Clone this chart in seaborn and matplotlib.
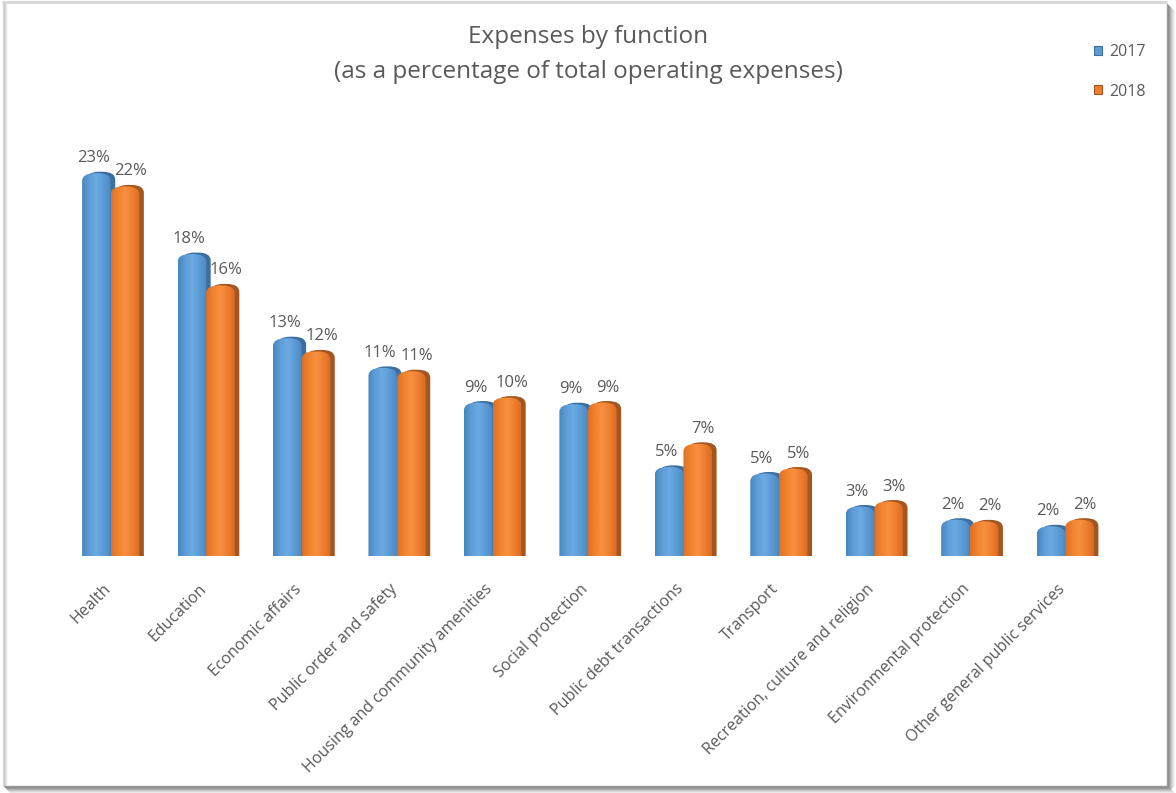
import numpy as np
import pandas as pd
import matplotlib
matplotlib.use("Agg")
import matplotlib.pyplot as plt
import seaborn as sns
from matplotlib.patches import FancyBboxPatch, Patch
from matplotlib.colors import to_rgb
from matplotlib.lines import Line2D
from matplotlib.transforms import ScaledTranslation

# ---- data -------------------------------------------------------------
functions = [
    "Health", "Education", "Economic affairs", "Public order and safety",
    "Housing and community amenities", "Social protection",
    "Public debt transactions", "Transport",
    "Recreation, culture and religion", "Environmental protection",
    "Other general public services",
]
years = ["2017", "2018"]
share_2017 = [23.2, 18.3, 13.2, 11.4, 9.3, 9.2, 5.4, 5.0, 3.0, 2.2, 1.8]
share_2018 = [22.4, 16.4, 12.4, 11.2, 9.6, 9.3, 6.8, 5.3, 3.3, 2.1, 2.2]

df = pd.DataFrame({
    "function": functions * 2,
    "year": [years[0]] * len(functions) + [years[1]] * len(functions),
    "share": share_2017 + share_2018,
})

# ---- style ------------------------------------------------------------
sns.set_style("white")
plt.rcParams["font.family"] = ["Open Sans", "DejaVu Sans"]
TEXT = "#595959"
BLUE, ORANGE = "#5B9BD5", "#ED7D31"
SIDE = {"2017": "#3C6F9F", "2018": "#A3561F"}
GRAD = {
    "2017": ["#4A86C0", "#5E9DD8", "#6CAAE2", "#5B9BD5", "#4C89C2"],
    "2018": ["#DD7026", "#F1832F", "#F8903F", "#EE7E30", "#D86C23"],
}

fig = plt.figure(figsize=(11.76, 7.93), dpi=100)
W, H = 1176, 793
ax = fig.add_axes([63 / W, (H - 556) / H, 1050 / W, 412.5 / H])

sns.barplot(data=df, x="function", y="share", hue="year", order=functions,
            hue_order=years, palette={"2017": BLUE, "2018": ORANGE},
            width=0.6, dodge=True, legend=False, ax=ax, saturation=1)

ax.set_xlim(-0.5, len(functions) - 0.5)
ax.set_ylim(0, 25)
sns.despine(ax=ax, left=True, bottom=True)
ax.set_yticks([])
ax.set_xlabel("")
ax.set_ylabel("")
ax.tick_params(axis="x", length=0, pad=18, labelsize=11.5, labelcolor=TEXT)
ax.set_xticks(range(len(functions)))
ax.set_xticklabels(functions, rotation=45, ha="right", va="top",
                   rotation_mode="anchor")
shift = ScaledTranslation(-8 / 100, 0, fig.dpi_scale_trans)
for lab in ax.get_xticklabels():
    lab.set_transform(lab.get_transform() + shift)

# pixel sizes in data units (axes geometry and limits are fixed above)
px_x = (len(functions)) / 1050.0
px_y = 25 / 412.5
r_px = 13.0
aspect = (px_y / px_x) * 0.6


def gradient_image(key):
    cols = np.array([to_rgb(c) for c in GRAD[key]])
    pos = np.linspace(0, 1, len(cols))
    xs = np.linspace(0, 1, 64)
    img = np.stack([np.interp(xs, pos, cols[:, k]) for k in range(3)], axis=-1)
    return img[np.newaxis, :, :]


label_dx = {"2017": -2.0, "2018": 4.0}

# rounded, shaded columns built on the bars seaborn placed
for key, container in zip(years, ax.containers):
    img = gradient_image(key)
    for bar in container:
        x, w, h = bar.get_x(), bar.get_width(), bar.get_height()
        bar.set_alpha(0)
        side = FancyBboxPatch((x + 4.5 * px_x, -1), w, h + 1 + 1.5 * px_y,
                              boxstyle=f"round,pad=0,rounding_size={r_px * px_x}",
                              mutation_aspect=aspect, facecolor=SIDE[key],
                              edgecolor="none", zorder=2)
        ax.add_patch(side)
        main = FancyBboxPatch((x, -1), w, h + 1,
                              boxstyle=f"round,pad=0,rounding_size={r_px * px_x}",
                              mutation_aspect=aspect, facecolor=bar.get_facecolor(),
                              edgecolor="none", zorder=3)
        ax.add_patch(main)
        im = ax.imshow(img, extent=(x, x + w, -1, h), aspect="auto",
                       interpolation="bilinear", zorder=3.5)
        im.set_clip_path(main)
    anns = ax.bar_label(container,
                        labels=[f"{v:.0f}%" for v in container.datavalues],
                        padding=5, fontsize=12, color=TEXT, zorder=5)
    for a in anns:
        a.xyann = (label_dx[key], 5)

ax.set_xlim(-0.5, len(functions) - 0.5)
ax.set_ylim(0, 25)

# title
fig.text(0.5, 1 - 37 / H, "Expenses by function", ha="center", va="center",
         fontsize=17.5, color=TEXT)
fig.text(0.5, 1 - 72 / H, "(as a percentage of total operating expenses)",
         ha="center", va="center", fontsize=17.5, color=TEXT)

# legend
handles = [Patch(facecolor=BLUE, edgecolor=SIDE["2017"], lw=0.8),
           Patch(facecolor=ORANGE, edgecolor=SIDE["2018"], lw=0.8)]
fig.legend(handles, years, loc="center left",
           bbox_to_anchor=(1080 / W, 1 - 72 / H), frameon=False, fontsize=11.5,
           labelcolor=TEXT, handlelength=0.5, handleheight=0.5,
           handletextpad=0.4, labelspacing=1.45)

# frame around the chart with a soft shadow on the right and bottom
fig.add_artist(Line2D([3 / W, 1166 / W], [1 - 2 / H, 1 - 2 / H],
                      transform=fig.transFigure, color="#D9D9D9", lw=2.2))
for i, g in enumerate([0.86, 0.80, 0.84, 0.90]):
    xx = (3 + i) / W
    fig.add_artist(Line2D([xx, xx], [1 - 3 / H, 8 / H], transform=fig.transFigure,
                          color=str(g), lw=1.0))
shadow = [0.62, 0.55, 0.6, 0.68, 0.76, 0.84, 0.9, 0.95]
for i, g in enumerate(shadow):
    xx = (1167 + i) / W
    fig.add_artist(Line2D([xx, xx], [1 - (4 + i) / H, (1 + i) / H],
                          transform=fig.transFigure, color=str(g), lw=1.0))
    yy = (793 - 786 - i) / H
    fig.add_artist(Line2D([(4 + i) / W, (1167 + i) / W], [yy, yy],
                          transform=fig.transFigure, color=str(g), lw=1.0))

fig.savefig("out.png", dpi=100)
